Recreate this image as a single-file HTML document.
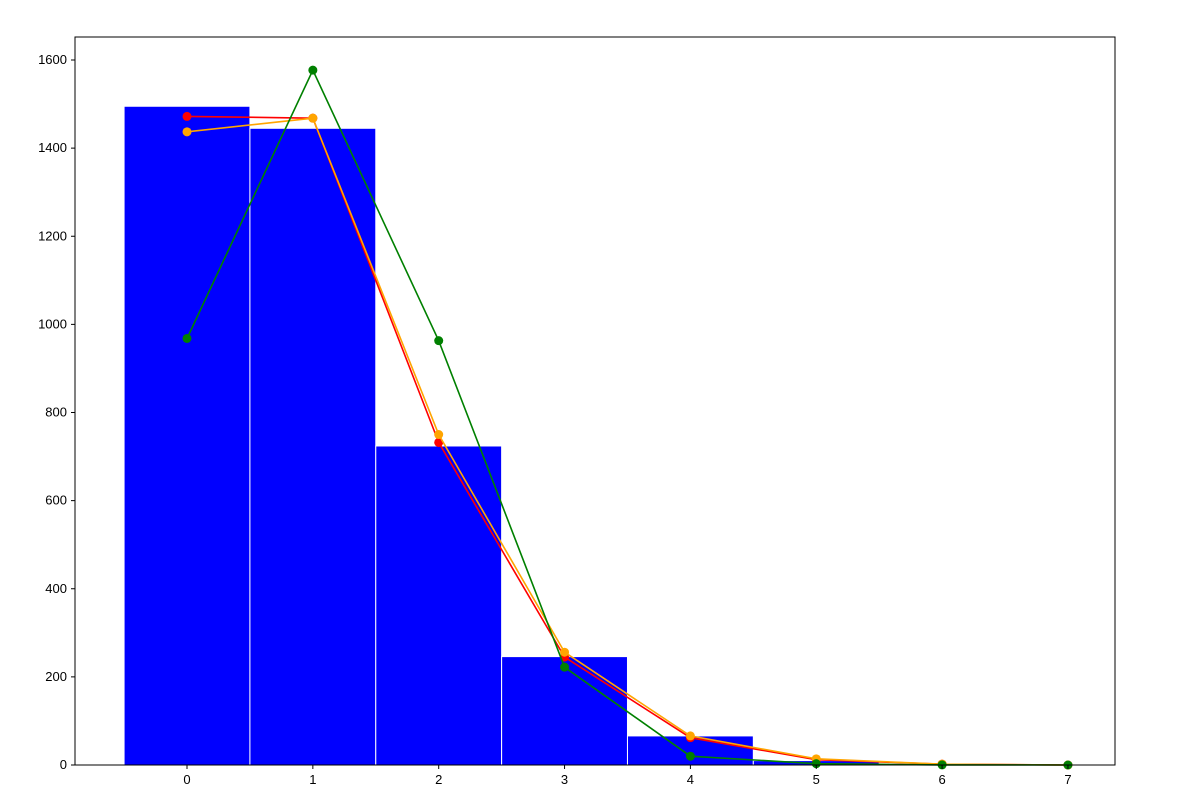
<!DOCTYPE html>
<html><head><meta charset="utf-8"><style>body{margin:0;background:#fff}svg{display:block;font-family:"Liberation Sans","DejaVu Sans",sans-serif}</style></head>
<body>
<svg id="chart" width="1182" height="809" xmlns="http://www.w3.org/2000/svg"></svg>
<script>
const categories=[0,1,2,3,4,5,6,7];
const barValues=[1495,1445,724,246,66,10,2,0];
const redValues=[1472,1468,732,245,62,12,2,0];
const orangeValues=[1437,1468,750,256,66,14,2,0];
const greenValues=[968,1577,963,222,20,3,0.2,0];
const yTicks=[0,200,400,600,800,1000,1200,1400,1600];
const xTicks=[0,1,2,3,4,5,6,7];
const NS="http://www.w3.org/2000/svg";
const svg=document.getElementById('chart');
const L=75,R=1115,T=37,B=765;
const xs=v=>187+(v)*125.85;
const ys=v=>B-v*(705/1600);
function mk(tag,attrs,parent){const e=document.createElementNS(NS,tag);for(const k in attrs)e.setAttribute(k,attrs[k]);(parent||svg).appendChild(e);return e;}
const bars=mk('g',{});


categories.forEach((c,i)=>{const v=barValues[i];if(v<=0)return;
 const r=mk('rect',{x:xs(c-0.5),y:ys(v),width:xs(c+0.5)-xs(c-0.5),height:B-ys(v),fill:'#0000ff',stroke:'#fff','stroke-width':1},bars);
 
 });
function series(vals,color,name){const g=mk('g',{});
 
 
 mk('polyline',{points:categories.map((c,i)=>xs(c)+','+ys(vals[i])).join(' '),fill:'none',stroke:color,'stroke-width':1.6},g);
 categories.forEach((c,i)=>{const p=mk('circle',{cx:xs(c),cy:ys(vals[i]),r:4.5,fill:color},g);
  
  });}
series(redValues,'#ff0000','red-series');
series(orangeValues,'#ffa500','orange-series');
series(greenValues,'#008000','green-series');
const frame=mk('rect',{x:L,y:T,width:R-L,height:B-T,fill:'none',stroke:'#000','stroke-width':1});


yTicks.forEach(t=>{const y=ys(t);mk('line',{x1:L-4,x2:L,y1:y,y2:y,stroke:'#000'});
 const tx=mk('text',{x:L-8,y:y+4,'text-anchor':'end','font-size':13},null);tx.textContent=t;
 
 });
xTicks.forEach(t=>{const x=xs(t);mk('line',{x1:x,x2:x,y1:B,y2:B+4,stroke:'#000'});
 const tx=mk('text',{x:x,y:B+19,'text-anchor':'middle','font-size':13});tx.textContent=t;
 
 });
</script>
</body></html>
